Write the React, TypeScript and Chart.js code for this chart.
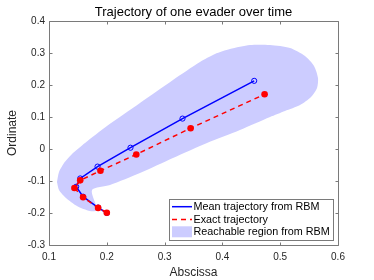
import React, { useEffect, useRef } from 'react';
import { Chart, registerables } from 'chart.js';

Chart.register(...registerables);

const titleText = 'Trajectory of one evader over time';
const xLabel = 'Abscissa';
const yLabel = 'Ordinate';
const seriesLabels = ['Mean trajectory from RBM', 'Exact trajectory', 'Reachable region from RBM'];

const meanX = [0.2, 0.185, 0.159, 0.147, 0.154, 0.184, 0.241, 0.331, 0.455];
const meanY = [-0.2, -0.183, -0.149, -0.118, -0.092, -0.055, 0.004, 0.095, 0.213];

const exactX = [0.2, 0.185, 0.159, 0.144, 0.154, 0.189, 0.251, 0.345, 0.473];
const exactY = [-0.199, -0.184, -0.151, -0.122, -0.098, -0.068, -0.017, 0.065, 0.171];

const regionX = [0.1138, 0.1173, 0.126, 0.1398, 0.1623, 0.2003, 0.2574, 0.3145, 0.3612, 0.3872, 0.4131, 0.4478, 0.4824, 0.517, 0.5429, 0.5585, 0.5654, 0.5637, 0.5533, 0.5343, 0.5083, 0.4824, 0.4304, 0.3734, 0.3145, 0.2574, 0.2055, 0.1744, 0.183, 0.1709, 0.1484, 0.1294, 0.1173, 0.1138];
const regionY = [-0.1031, -0.0719, -0.0438, -0.0156, 0.0188, 0.0719, 0.1438, 0.2156, 0.2719, 0.2969, 0.3125, 0.325, 0.325, 0.3156, 0.2906, 0.2594, 0.2219, 0.1906, 0.1625, 0.1375, 0.1188, 0.1, 0.0594, 0.0188, -0.0281, -0.075, -0.1125, -0.1281, -0.1906, -0.1938, -0.1781, -0.1531, -0.1281, -0.1031];

const xMin = 0.1, xMax = 0.6, xStep = 0.1;
const yMin = -0.3, yMax = 0.4, yStep = 0.1;

const FONT = '"Liberation Sans", Arial, Helvetica, sans-serif';
const AXIS_COLOR = '#262626';

const pts = (xs: number[], ys: number[]) => xs.map((x, i) => ({ x, y: ys[i] }));

const boxPlugin = {
  id: 'matlabBox',
  afterDraw(chart: any) {
    const { ctx, chartArea: a, scales } = chart;
    const L = Math.round(a.left) + 0.5, R = Math.round(a.right) + 0.5;
    const T = Math.round(a.top) + 0.5, B = Math.round(a.bottom) + 0.5;
    ctx.save();
    // title centred over the plot area
    ctx.fillStyle = '#000000';
    ctx.font = `13px ${FONT}`;
    ctx.textAlign = 'center';
    ctx.textBaseline = 'alphabetic';
    ctx.fillText(titleText, (a.left + a.right) / 2, 16);

    ctx.strokeStyle = '#7a7a7a';
    ctx.lineWidth = 1;
    ctx.beginPath();
    ctx.rect(L, T, R - L, B - T);
    ctx.stroke();
    const tl = 3;
    ctx.beginPath();
    scales.x.ticks.forEach((t: any) => {
      const px = Math.round(scales.x.getPixelForValue(t.value)) + 0.5;
      ctx.moveTo(px, B); ctx.lineTo(px, B - tl);
      ctx.moveTo(px, T); ctx.lineTo(px, T + tl);
    });
    scales.y.ticks.forEach((t: any) => {
      const py = Math.round(scales.y.getPixelForValue(t.value)) + 0.5;
      ctx.moveTo(L, py); ctx.lineTo(L + tl, py);
      ctx.moveTo(R, py); ctx.lineTo(R - tl, py);
    });
    ctx.stroke();

    // legend box inside the plot (bottom-right)
    const lx = 169.5, ly = 199.5, lw = 164, lh = 41;
    ctx.fillStyle = '#ffffff';
    ctx.fillRect(lx, ly, lw, lh);
    ctx.strokeStyle = '#7a7a7a';
    ctx.strokeRect(lx, ly, lw, lh);
    const ds = chart.data.datasets;
    const rows = [206.7, 219.5, 231.8];
    const x0 = 172, x1 = 192;
    ctx.font = `10.8px ${FONT}`;
    ctx.textBaseline = 'middle';
    ctx.textAlign = 'left';
    ctx.strokeStyle = ds[0].borderColor;
    ctx.lineWidth = 1.5;
    ctx.setLineDash([]);
    ctx.beginPath(); ctx.moveTo(x0, rows[0]); ctx.lineTo(x1, rows[0]); ctx.stroke();
    ctx.strokeStyle = ds[1].borderColor;
    ctx.setLineDash([5, 4]);
    ctx.beginPath(); ctx.moveTo(x0, rows[1]); ctx.lineTo(x1, rows[1]); ctx.stroke();
    ctx.setLineDash([]);
    ctx.fillStyle = ds[2].backgroundColor;
    ctx.fillRect(x0, rows[2] - 5.5, x1 - x0, 11);
    ctx.fillStyle = '#000000';
    ds.forEach((d: any, i: number) => {
      ctx.fillText(d.label, 193.5, rows[i] + 0.5);
    });
    ctx.restore();
  },
};

export default function App() {
  const ref = useRef<HTMLCanvasElement | null>(null);
  useEffect(() => {
    document.body.style.margin = '0';
    const canvas = ref.current;
    if (!canvas) return;
    const chart = new Chart(canvas, {
      type: 'scatter',
      data: {
        datasets: [
          {
            label: seriesLabels[0],
            data: pts(meanX, meanY),
            showLine: true,
            borderColor: '#0000ff',
            backgroundColor: 'rgba(0,0,0,0)',
            borderWidth: 1.5,
            pointRadius: 2.6,
            pointBorderWidth: 1,
            pointBorderColor: '#0000ff',
            pointBackgroundColor: 'rgba(0,0,0,0)',
            fill: false,
            order: 2,
          },
          {
            label: seriesLabels[1],
            data: pts(exactX, exactY),
            showLine: true,
            borderColor: '#ff0000',
            backgroundColor: '#ff0000',
            borderWidth: 1.5,
            borderDash: [5, 4],
            pointRadius: 3.3,
            pointBorderWidth: 0,
            pointBackgroundColor: '#ff0000',
            fill: false,
            order: 1,
          },
          {
            label: seriesLabels[2],
            data: pts(regionX, regionY),
            showLine: true,
            borderColor: 'rgba(0,0,0,0)',
            backgroundColor: '#ccccff',
            borderWidth: 0,
            pointRadius: 0,
            tension: 0.25,
            fill: 'shape',
            order: 3,
          },
        ],
      },
      options: {
        responsive: false,
        animation: false,
        layout: { padding: { left: 0, right: 36, top: 21, bottom: 0 } },
        plugins: {
          legend: { display: false },
          tooltip: { enabled: false },
          title: { display: false },
        },
        scales: {
          x: {
            type: 'linear',
            min: xMin,
            max: xMax,
            afterFit: (s: any) => { s.height = 35; },
            grid: { display: false, drawTicks: false },
            border: { display: false },
            ticks: { stepSize: xStep, color: AXIS_COLOR, font: { family: FONT, size: 10 }, padding: 6, maxRotation: 0 },
            title: { display: true, text: xLabel, color: AXIS_COLOR, font: { family: FONT, size: 12 }, padding: { top: 0, bottom: 0 } },
          },
          y: {
            type: 'linear',
            min: yMin,
            max: yMax,
            afterFit: (s: any) => { s.width = 49; },
            grid: { display: false, drawTicks: false },
            border: { display: false },
            ticks: { stepSize: yStep, color: AXIS_COLOR, font: { family: FONT, size: 10 }, padding: 4 },
            title: { display: true, text: yLabel, color: AXIS_COLOR, font: { family: FONT, size: 12 }, padding: { top: 5, bottom: 0 } },
          },
        },
      },
      plugins: [boxPlugin],
    });
    return () => chart.destroy();
  }, []);
  return <canvas ref={ref} width={374} height={280} style={{ display: 'block', width: 374, height: 280 }} />;
}
